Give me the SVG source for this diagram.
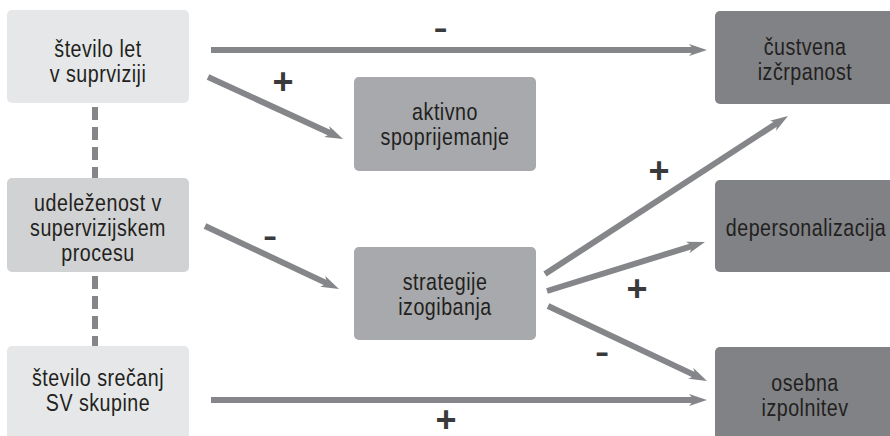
<svg xmlns="http://www.w3.org/2000/svg" width="890" height="436" viewBox="0 0 890 436">
<style>
.box{stroke:none}
.l1{fill:#e6e7e8}
.l2{fill:#d1d2d4}
.m{fill:#a7a9ac}
.d{fill:#808285}
.t{font-family:"Liberation Sans",Arial,sans-serif;font-size:24px;fill:#231f20;text-anchor:middle;letter-spacing:0.6px}
.c{stroke:#858689;stroke-width:6;fill:none;marker-end:url(#ah)}
.dash{stroke:#858689;stroke-width:6;stroke-dasharray:13 7;fill:none}
.pl{font-family:"Liberation Sans",Arial,sans-serif;font-weight:bold;font-size:36px;fill:#3a3a3c;text-anchor:middle}
.mi{font-family:"Liberation Sans",Arial,sans-serif;font-size:44px;fill:#3a3a3c;text-anchor:middle}
</style>
<defs>
<marker id="ah" markerUnits="userSpaceOnUse" markerWidth="18" markerHeight="12" refX="6" refY="6" orient="auto" viewBox="0 0 18 12">
<path d="M0,0 L18,6 L0,12 L5,6 Z" fill="#858689"/>
</marker>
</defs>
<g id="n1"><rect class="box l1" x="7" y="10" width="182" height="93" rx="5"/><text class="t" transform="translate(98,57) scale(0.82,1)">število let</text><text class="t" transform="translate(98,82) scale(0.82,1)">v suprviziji</text></g>
<g id="n2"><rect class="box l2" x="7" y="178" width="182" height="94" rx="5"/><text class="t" transform="translate(98,211) scale(0.82,1)">udeleženost v</text><text class="t" transform="translate(98,236) scale(0.82,1)">supervizijskem</text><text class="t" transform="translate(98,261) scale(0.82,1)">procesu</text></g>
<g id="n3"><rect class="box l1" x="7" y="346" width="182" height="100" rx="5"/><text class="t" transform="translate(98,386) scale(0.82,1)">število srečanj</text><text class="t" transform="translate(98,411) scale(0.82,1)">SV skupine</text></g>
<g id="n4"><rect class="box m" x="354" y="77" width="182" height="94" rx="5"/><text class="t" transform="translate(445,120) scale(0.82,1)">aktivno</text><text class="t" transform="translate(445,145) scale(0.82,1)">spoprijemanje</text></g>
<g id="n5"><rect class="box m" x="354" y="247" width="182" height="93" rx="5"/><text class="t" transform="translate(445,290) scale(0.82,1)">strategije</text><text class="t" transform="translate(445,315) scale(0.82,1)">izogibanja</text></g>
<g id="n6"><rect class="box d" x="715" y="11" width="190" height="93" rx="5"/><text class="t" transform="translate(805,55) scale(0.82,1)">čustvena</text><text class="t" transform="translate(805,80) scale(0.82,1)">izčrpanost</text></g>
<g id="n7"><rect class="box d" x="715" y="180" width="190" height="92" rx="5"/><text class="t" transform="translate(806,236) scale(0.82,1)">depersonalizacija</text></g>
<g id="n8"><rect class="box d" x="715" y="347" width="190" height="100" rx="5"/><text class="t" transform="translate(805,391) scale(0.82,1)">osebna</text><text class="t" transform="translate(805,416) scale(0.82,1)">izpolnitev</text></g>
<g id="connectors">
<line class="dash" x1="95" y1="103" x2="95" y2="178" stroke-dashoffset="-4"/>
<line class="dash" x1="95" y1="272" x2="95" y2="346" stroke-dashoffset="-4"/>
<line class="c" x1="211" y1="50" x2="695" y2="50"/>
<line class="c" x1="208" y1="77" x2="332.1" y2="134"/>
<line class="c" x1="205" y1="226" x2="328.1" y2="283.9"/>
<line class="c" x1="545" y1="274" x2="777.9" y2="122.5"/>
<line class="c" x1="547" y1="291" x2="693.5" y2="245.6"/>
<line class="c" x1="548" y1="306" x2="696.2" y2="375.9"/>
<line class="c" x1="211" y1="400" x2="695" y2="400"/>
<text class="mi" x="440.5" y="41.8">-</text>
<text class="pl" x="283" y="94">+</text>
<text class="mi" x="270" y="249.5">-</text>
<text class="pl" x="659" y="183">+</text>
<text class="pl" x="637" y="301">+</text>
<text class="mi" x="602" y="365.8">-</text>
<text class="pl" x="446" y="432">+</text>
</g>
</svg>
